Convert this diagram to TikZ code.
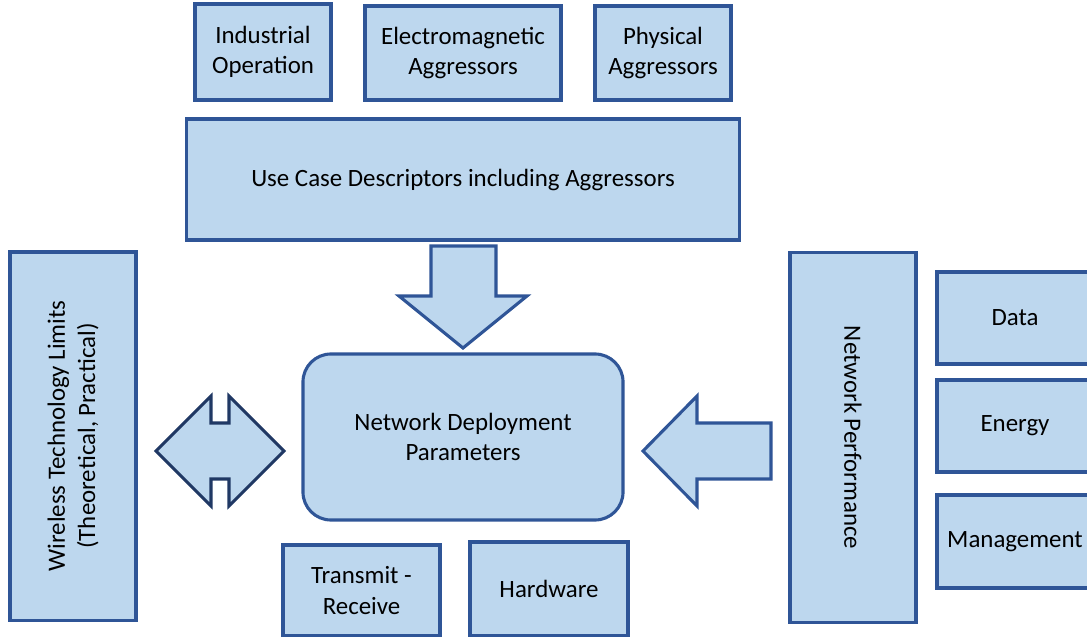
\documentclass[tikz,border=0pt]{standalone}
\usepackage{fontspec}
\setmainfont{Carlito}
\definecolor{boxfill}{HTML}{BDD7EE}
\definecolor{boxline}{HTML}{2F5597}
\definecolor{darkline}{HTML}{203864}
\tikzset{
  blk/.style={draw=boxline, fill=boxfill, line width=2.2pt, align=center, inner sep=2pt},
  blkarrow/.style={draw=boxline, fill=boxfill, line width=2.2pt, line join=miter},
}

\begin{document}
\begin{tikzpicture}[x=0.025cm, y=-0.025cm, font=\fontsize{17.7}{21.5}\selectfont]
  \clip (0,0) rectangle (1087,637);

  % aggressors
  \node[blk, minimum width=3.4cm, minimum height=2.4cm] (indop) at (263,52) {Industrial\\Operation};
  \node[blk, minimum width=4.9cm, minimum height=2.35cm] (emag) at (463,53) {Electromagnetic\\Aggressors};
  \node[blk, minimum width=3.4cm, minimum height=2.35cm] (phys) at (663,53) {Physical\\Aggressors};

  % use case
  \node[blk, minimum width=13.8cm, minimum height=3.025cm] (usecase) at (463,179.5) {Use Case Descriptors including Aggressors};

  % deployment
  \node[blk, rounded corners=0.7cm, minimum width=8cm, minimum height=4.15cm] (deploy) at (463,437) {Network Deployment\\Parameters};
  \node[blk, minimum width=3.925cm, minimum height=2.275cm] (txrx) at (361.5,590.5) {Transmit -\\Receive};
  \node[blk, minimum width=3.95cm, minimum height=2.35cm] (hw) at (549,589) {Hardware};

  % limits
  \node[blk, rotate=90, minimum width=9.2cm, minimum height=3.15cm] (limits) at (73,436) {Wireless Technology Limits\\(Theoretical, Practical)};

  % performance
  \node[blk, rotate=-90, minimum width=9.225cm, minimum height=3.15cm] (perf) at (853,437.5) {Network Performance};
  \node[blk, minimum width=3.9cm, minimum height=2.3cm] (data) at (1015,318) {Data};
  \node[blk, minimum width=3.9cm, minimum height=2.3cm] (energy) at (1015,426) {Energy};
  \node[blk, minimum width=3.9cm, minimum height=2.325cm] (mgmt) at (1015,541.5) {Management};

  % block arrows
  \draw[blkarrow] (431,246) -- (496,246) -- (496,296) -- (527,296) -- (463,348)
    -- (399,296) -- (431,296) -- cycle;
  \draw[blkarrow, draw=darkline] (156,451) -- (211,396) -- (211,423) -- (229,423)
    -- (229,396) -- (284,451) -- (229,506) -- (229,479) -- (211,479) -- (211,506) -- cycle;
  \draw[blkarrow] (643,451) -- (697,396) -- (697,423) -- (771,423) -- (771,479)
    -- (697,479) -- (697,506) -- cycle;

\end{tikzpicture}
\end{document}
